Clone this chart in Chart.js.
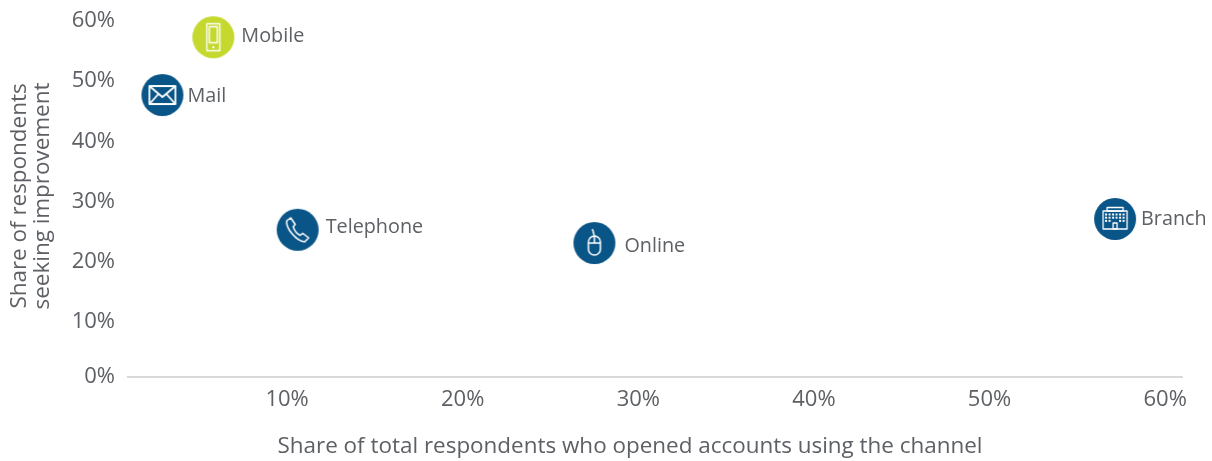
<!DOCTYPE html>
<html>
<head>
<meta charset="utf-8">
<style>
  html, body { margin: 0; padding: 0; background: #fff; }
  canvas { display: block; }
</style>
<script src="https://cdn.jsdelivr.net/npm/chart.js@4"></script>
</head>
<body>
<canvas id="channelChart" width="1212" height="461"></canvas>
<script>
const channels = ["Mobile", "Mail", "Telephone", "Online", "Branch"];
const openedShare = [5.8, 2.9, 10.6, 27.5, 57.15];
const improveShare = [57.3, 47.7, 25.3, 23.1, 27.1];
const xTickValues = [10, 20, 30, 40, 50, 60];
const yTickValues = [0, 10, 20, 30, 40, 50, 60];
const xTitle = "Share of total respondents who opened accounts using the channel";
const yTitle = ["Share of respondents", "seeking improvement"];

const BLUE = "#0a5587";
const LIME = "#c4d82e";
const TEXT = "#5d6065";
const FONT = "'Open Sans', 'Noto Sans', sans-serif";

// label nudges relative to the point, in px
const labelOffsets = {
    Mobile: [28, -1],
    Mail: [25, 1],
    Telephone: [28, -2],
    Online: [30, 3],
    Branch: [26, 0],
};

function makeIcon(color, draw) {
    const c = document.createElement("canvas");
    c.width = 44;
    c.height = 44;
    const g = c.getContext("2d");
    g.fillStyle = color;
    g.beginPath();
    g.arc(22, 22, 21, 0, Math.PI * 2);
    g.fill();
    g.strokeStyle = "#fff";
    g.fillStyle = "#fff";
    g.lineWidth = 1.4;
    g.lineJoin = "round";
    draw(g);
    return c;
}

const icons = {
    Mobile: makeIcon(LIME, (g) => {
        g.strokeRect(15.5, 8.5, 13, 27);
        g.strokeRect(18, 11.5, 8, 16);
        g.fillRect(21, 31, 2, 2);
    }),
    Mail: makeIcon(BLUE, (g) => {
        g.lineWidth = 1.8;
        g.strokeRect(9, 13, 26, 18);
        g.beginPath();
        g.moveTo(9, 13);
        g.lineTo(22, 24);
        g.lineTo(35, 13);
        g.moveTo(9, 31);
        g.lineTo(18, 21);
        g.moveTo(35, 31);
        g.lineTo(26, 21);
        g.stroke();
    }),
    Telephone: makeIcon(BLUE, (g) => {
        g.lineWidth = 1.5;
        g.beginPath();
        g.moveTo(15, 10);
        g.lineTo(11, 13);
        g.bezierCurveTo(10, 20, 20, 33, 29, 34);
        g.lineTo(33, 30);
        g.lineTo(27, 25.5);
        g.lineTo(24.5, 27.5);
        g.bezierCurveTo(21, 26, 18.5, 22, 17.5, 19);
        g.lineTo(19.5, 16.5);
        g.closePath();
        g.stroke();
    }),
    Online: makeIcon(BLUE, (g) => {
        g.lineWidth = 1.5;
        g.beginPath();
        g.moveTo(20, 8);
        g.lineTo(22, 15);
        g.stroke();
        g.beginPath();
        g.moveTo(16, 21);
        g.arc(22, 21, 6, Math.PI, 0);
        g.lineTo(28, 28);
        g.arc(22, 28, 6, 0, Math.PI);
        g.closePath();
        g.moveTo(16, 22);
        g.lineTo(28, 22);
        g.moveTo(22, 15);
        g.lineTo(22, 22);
        g.stroke();
    }),
    Branch: makeIcon(BLUE, (g) => {
        g.lineWidth = 1.3;
        g.strokeRect(10, 14, 24, 18);
        g.strokeRect(14, 10.5, 16, 3.5);
        g.strokeRect(20, 26, 4, 6);
        for (let row = 0; row < 3; row++) {
            for (let col = 0; col < 6; col++) {
                if (row === 2 && (col === 2 || col === 3)) continue;
                g.fillRect(12 + col * 3.5, 16.5 + row * 3.2, 2, 2);
            }
        }
    }),
};

// channel names next to the points, plus both axis captions, which sit
// off the plot centre in the original
const channelLabels = {
    id: "channelLabels",
    afterDatasetsDraw(chart) {
        const { ctx } = chart;
        ctx.save();
        ctx.font = "19.8px " + FONT;
        ctx.fillStyle = TEXT;
        ctx.textAlign = "left";
        ctx.textBaseline = "middle";
        chart.getDatasetMeta(0).data.forEach((pt, i) => {
            const off = labelOffsets[channels[i]];
            ctx.fillText(channels[i], pt.x + off[0], pt.y + off[1]);
        });
        ctx.font = "22.45px " + FONT;
        ctx.textAlign = "center";
        ctx.fillText(xTitle, 630, 447);
        ctx.translate(0, 196);
        ctx.rotate(-Math.PI / 2);
        ctx.fillText(yTitle[0], 0, 20);
        ctx.fillText(yTitle[1], 0, 43);
        ctx.restore();
    },
};

new Chart(document.getElementById("channelChart"), {
    type: "scatter",
    data: {
        labels: channels,
        datasets: [
            {
                data: channels.map((name, i) => ({ x: openedShare[i], y: improveShare[i] })),
                pointStyle: channels.map((name) => icons[name]),
                pointRadius: 21,
                clip: false,
            },
        ],
    },
    options: {
        responsive: false,
        animation: false,
        // autoPadding would push the plot down to make room for the big points
        layout: { autoPadding: false, padding: { top: 21, right: 30, left: 0, bottom: 0 } },
        plugins: {
            legend: { display: false },
            tooltip: { enabled: false },
        },
        scales: {
            x: {
                type: "linear",
                min: 0.94,
                max: 60.96,
                afterBuildTicks: (axis) => {
                    axis.ticks = xTickValues.map((v) => ({ value: v }));
                },
                afterFit: (axis) => {
                    axis.height = 84;
                },
                grid: { display: false, drawTicks: false },
                border: { display: true, color: "#d9d9d9", width: 2 },
                ticks: {
                    padding: 10,
                    autoSkip: false,
                    maxRotation: 0,
                    color: TEXT,
                    font: { family: FONT, size: 22 },
                    callback: (value) => value + "%",
                },
            },
            y: {
                // the axis line sits just above the true zero, the 0% label stays on the line
                min: 0.83,
                max: 60,
                afterBuildTicks: (axis) => {
                    axis.ticks = yTickValues.map((v) => ({ value: Math.max(v, axis.min) }));
                },
                afterFit: (axis) => {
                    axis.width = 128;
                    axis.paddingTop = 0;
                    axis.paddingBottom = 0;
                },
                grid: { display: false, drawTicks: false },
                border: { display: false },
                ticks: {
                    padding: 13,
                    autoSkip: false,
                    color: TEXT,
                    font: { family: FONT, size: 22 },
                    callback: (value, index) => yTickValues[index] + "%",
                },
            },
        },
    },
    plugins: [channelLabels],
});
</script>
</body>
</html>
